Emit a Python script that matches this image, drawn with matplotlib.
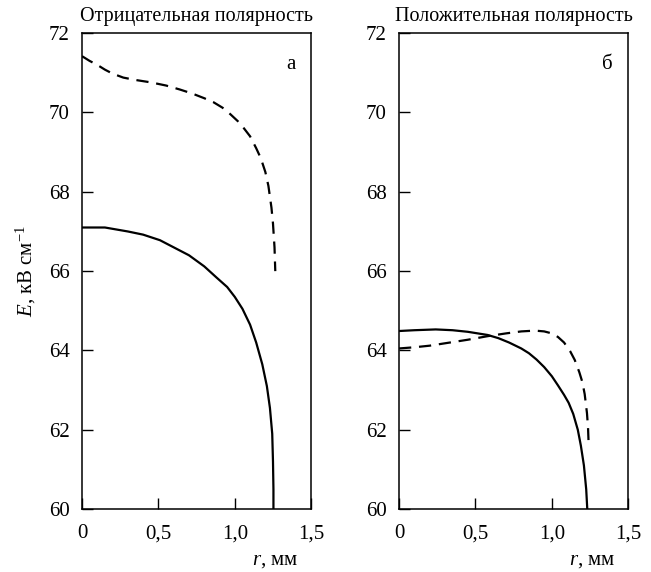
import matplotlib.pyplot as plt
from matplotlib.ticker import FuncFormatter

plt.rcParams["font.family"] = ["Liberation Serif", "DejaVu Serif"]
plt.rcParams["mathtext.fontset"] = "custom"
plt.rcParams["mathtext.rm"] = "Liberation Serif"
plt.rcParams["mathtext.it"] = "Liberation Serif:italic"

# panel а: negative polarity
neg_dash_r = [0.0, 0.05, 0.1, 0.15, 0.2, 0.27, 0.35, 0.45, 0.55, 0.64, 0.72, 0.8, 0.86,
              0.92, 0.97, 1.02, 1.06, 1.1, 1.14, 1.17, 1.2, 1.22, 1.24, 1.25, 1.26, 1.265]
neg_dash_e = [71.42, 71.3, 71.2, 71.08, 70.98, 70.88, 70.82, 70.76, 70.68, 70.58, 70.48, 70.36, 70.26,
              70.12, 69.96, 69.78, 69.6, 69.4, 69.1, 68.85, 68.5, 68.15, 67.6, 67.2, 66.6, 66.0]
neg_solid_r = [0.0, 0.15, 0.3, 0.4, 0.51, 0.6, 0.7, 0.8, 0.88, 0.95, 1.0, 1.05, 1.1,
               1.14, 1.18, 1.21, 1.23, 1.245, 1.25, 1.253, 1.253]
neg_solid_e = [67.1, 67.1, 67.0, 66.92, 66.78, 66.6, 66.4, 66.12, 65.84, 65.6, 65.35, 65.05, 64.65,
               64.2, 63.65, 63.1, 62.55, 61.9, 61.2, 60.5, 60.0]

# panel б: positive polarity
pos_solid_r = [0.0, 0.1, 0.24, 0.35, 0.45, 0.58, 0.65, 0.72, 0.8, 0.85, 0.9, 0.95, 1.0,
               1.04, 1.08, 1.11, 1.14, 1.17, 1.19, 1.21, 1.225, 1.232]
pos_solid_e = [64.49, 64.51, 64.53, 64.51, 64.47, 64.39, 64.31, 64.2, 64.05, 63.93, 63.77, 63.58, 63.35,
               63.12, 62.88, 62.68, 62.4, 62.0, 61.6, 61.1, 60.5, 60.0]
pos_dash_r = [0.0, 0.1, 0.2, 0.3, 0.45, 0.58, 0.7, 0.8, 0.89, 0.95, 1.0, 1.04, 1.08,
              1.12, 1.15, 1.18, 1.2, 1.215, 1.23, 1.237, 1.24]
pos_dash_e = [64.05, 64.08, 64.12, 64.18, 64.27, 64.36, 64.43, 64.48, 64.5, 64.48, 64.43, 64.34, 64.2,
              63.98, 63.76, 63.45, 63.2, 62.9, 62.42, 62.05, 61.74]

titles = ["Отрицательная полярность", "Положительная полярность"]
letters = ["а", "б"]
x_ticks = [0, 0.5, 1.0, 1.5]
y_ticks = [60, 62, 64, 66, 68, 70, 72]

fig = plt.figure(figsize=(6.51, 5.72), dpi=100)
ax_a = fig.add_axes([0.126, 0.110, 0.352, 0.832])
ax_b = fig.add_axes([0.613, 0.110, 0.352, 0.832])

comma = FuncFormatter(lambda v, _: "0" if v == 0 else f"{v:.1f}".replace(".", ","))

panels = [
    (ax_a, neg_solid_r, neg_solid_e, neg_dash_r, neg_dash_e),
    (ax_b, pos_solid_r, pos_solid_e, pos_dash_r, pos_dash_e),
]
for i, (ax, sr, se, dr, de) in enumerate(panels):
    ax.plot(sr, se, color="black", lw=1.6, solid_capstyle="butt")
    ax.plot(dr, de, color="black", lw=1.6, dashes=(5.5, 3.5))
    ax.set_xlim(0, 1.5)
    ax.set_ylim(60, 72)
    ax.set_xticks(x_ticks)
    ax.set_yticks(y_ticks)
    ax.xaxis.set_major_formatter(comma)
    ax.tick_params(direction="in", length=8, width=1, labelsize=15,
                   top=False, right=False)
    ax.tick_params(axis="y", pad=9)
    ax.tick_params(axis="x", pad=11)
    for s in ax.spines.values():
        s.set_linewidth(1.1)
    ax.set_title(titles[i], fontsize=14.5, pad=9)
    ax.text(0.93, 0.955, letters[i], transform=ax.transAxes, fontsize=15,
            ha="right", va="top")
    ax.text(0.843, -0.109, "$r$, мм", transform=ax.transAxes, fontsize=15,
            ha="center", va="center")

ax_a.set_ylabel("$E$, кВ см$^{-1}$", fontsize=15, labelpad=8)

fig.savefig("out.png", dpi=100)
